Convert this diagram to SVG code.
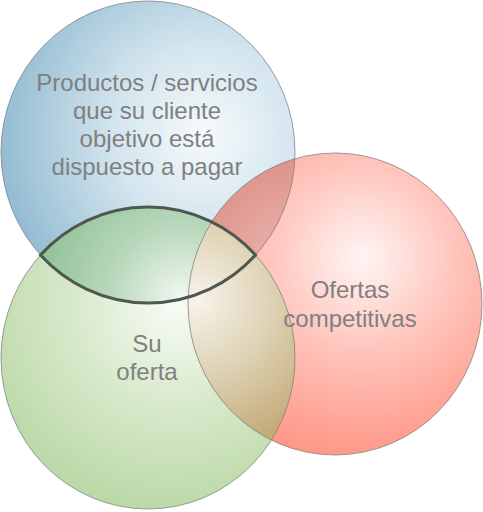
<svg xmlns="http://www.w3.org/2000/svg" width="483" height="512" viewBox="0 0 483 512">
  <style>
    .lbl { font-family: "Liberation Sans", Arial, sans-serif; font-size: 24px; fill: #808080; text-anchor: middle; }
    .edge { fill: none; stroke: #7c7c7c; stroke-opacity: 0.75; stroke-width: 1; }
  </style>
  <defs>
    <ellipse id="eBlue" cx="148" cy="152" rx="147" ry="151"/>
    <ellipse id="eGreen" cx="148" cy="358" rx="147" ry="151"/>
    <ellipse id="eRed" cx="335" cy="304" rx="147" ry="151"/>
    <clipPath id="cBlue"><use href="#eBlue"/></clipPath>
    <clipPath id="cGreen"><use href="#eGreen"/></clipPath>
    <clipPath id="cRed"><use href="#eRed"/></clipPath>
    <radialGradient id="gBlue" gradientUnits="userSpaceOnUse" cx="205" cy="135" r="205">
      <stop offset="0" stop-color="#f6fafc"/>
      <stop offset="0.45" stop-color="#d3e5ee"/>
      <stop offset="1" stop-color="#94bcd2"/>
    </radialGradient>
    <radialGradient id="gGreen" gradientUnits="userSpaceOnUse" cx="175" cy="305" r="215">
      <stop offset="0" stop-color="#f8fbf6"/>
      <stop offset="0.45" stop-color="#d9eacd"/>
      <stop offset="1" stop-color="#b9d7a4"/>
    </radialGradient>
    <radialGradient id="gRed" gradientUnits="userSpaceOnUse" cx="362" cy="258" r="215">
      <stop offset="0" stop-color="#fff5f4"/>
      <stop offset="0.45" stop-color="#ffc3ba"/>
      <stop offset="1" stop-color="#ff917f"/>
    </radialGradient>
    <radialGradient id="gLens" gradientUnits="userSpaceOnUse" cx="182" cy="298" r="160">
      <stop offset="0" stop-color="#f1f7f2"/>
      <stop offset="0.45" stop-color="#b8d8bb"/>
      <stop offset="1" stop-color="#8bbd93"/>
    </radialGradient>
    <radialGradient id="gRB" gradientUnits="userSpaceOnUse" cx="290" cy="255" r="110">
      <stop offset="0" stop-color="#ebb3b1"/>
      <stop offset="1" stop-color="#db8e83"/>
    </radialGradient>
    <radialGradient id="gRG" gradientUnits="userSpaceOnUse" cx="198" cy="300" r="150">
      <stop offset="0" stop-color="#f8f3ea"/>
      <stop offset="0.5" stop-color="#ddd2b4"/>
      <stop offset="1" stop-color="#c5ab78"/>
    </radialGradient>
  </defs>

  <g id="blue-circle">
    <use href="#eBlue" fill="url(#gBlue)"/>
  </g>
  <g id="red-circle">
    <use href="#eRed" fill="url(#gRed)"/>
    <g clip-path="url(#cBlue)"><use href="#eRed" fill="url(#gRB)"/></g>
  </g>
  <g id="green-circle">
    <use href="#eGreen" fill="url(#gGreen)"/>
    <g clip-path="url(#cBlue)"><use href="#eGreen" fill="url(#gLens)"/></g>
    <g clip-path="url(#cGreen)"><use href="#eRed" fill="url(#gRG)"/></g>
  </g>
  <g id="edges">
    <use href="#eBlue" class="edge"/>
    <use href="#eRed" class="edge"/>
    <use href="#eGreen" class="edge"/>
  </g>
  <g id="lens-outline">
    <path d="M 40.5 255 A 147 151 0 0 1 255.5 255 A 147 151 0 0 1 40.5 255 Z" fill="none" stroke="#4f574e" stroke-width="3" stroke-linejoin="miter"/>
  </g>
  <g id="labels">
    <text class="lbl" x="147" y="91">Productos / servicios</text>
    <text class="lbl" x="147" y="119">que su cliente</text>
    <text class="lbl" x="147" y="147">objetivo está</text>
    <text class="lbl" x="147" y="175">dispuesto a pagar</text>
    <text class="lbl" x="350" y="298">Ofertas</text>
    <text class="lbl" x="350" y="327">competitivas</text>
    <text class="lbl" x="147" y="352">Su</text>
    <text class="lbl" x="147" y="380">oferta</text>
  </g>
</svg>
